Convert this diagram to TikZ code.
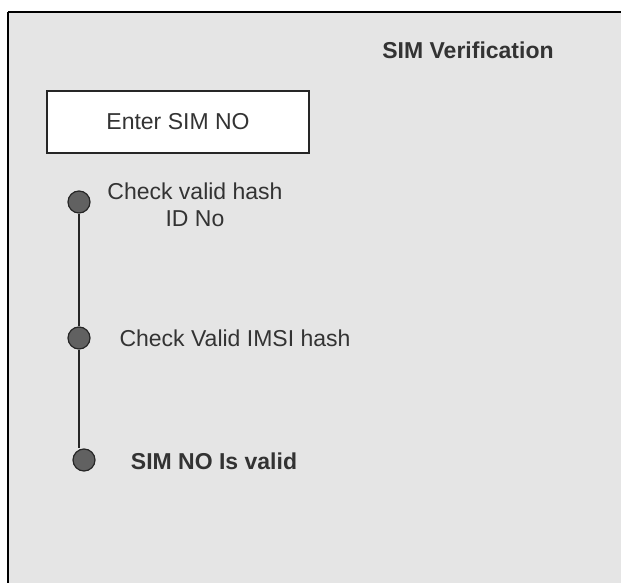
\documentclass[tikz,border=0pt]{standalone}
\usepackage{fontspec}
\setmainfont{Liberation Sans}
\begin{document}
\begin{tikzpicture}[x=1pt,y=-1pt,
  txt/.style={font=\fontsize{23}{27}\selectfont, text=black!80, align=center, inner sep=0pt},
  boldtxt/.style={txt, font=\fontsize{23}{27}\selectfont\bfseries},
  dot/.style={circle, draw=black!85, line width=1.2pt, fill=black!62, minimum size=22pt, inner sep=0pt},
  inbox/.style={draw=black!85, line width=1.3pt, fill=white, minimum width=262pt, minimum height=62pt, inner sep=0pt},
  link/.style={draw=black!85, line width=2pt}]
  \useasboundingbox (0,0) rectangle (621,583);
  % panel
  \fill[white] (0,0) rectangle (621,583);
  \fill[black!10] (8,12) rectangle (630,590);
  \draw[black, line width=1.2pt] (630,12) -- (8,12);
  \draw[black, line width=2pt] (8,12) -- (8,590);
  % title
  \node[boldtxt] (title) at (468,50) {SIM Verification};
  % input box
  \node[inbox] (enter) at (178,122) {};
  \node[txt] (entertxt) at (178,122) {Enter SIM NO};
  % steps
  \node[dot] (c1) at (79,202) {};
  \node[dot] (c2) at (79,338) {};
  \node[dot] (c3) at (84,460) {};
  \draw[link] (c1) -- (c2);
  \draw[link] (c2) -- (c2 |- c3.north);
  \node[txt] (t1) at (195,205) {Check valid hash\\ID No};
  \node[txt] (t2) at (235,338) {Check Valid IMSI hash};
  \node[boldtxt] (t3) at (214,461) {SIM NO Is valid};
\end{tikzpicture}
\end{document}
